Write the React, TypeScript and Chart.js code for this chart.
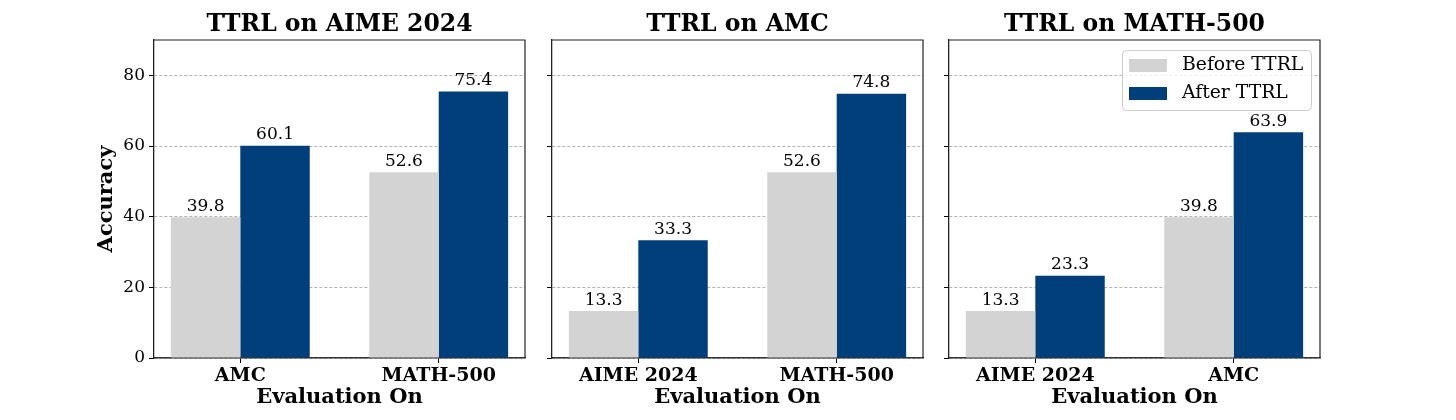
import React, { useEffect, useRef } from "react";
import { Chart, registerables } from "chart.js";

Chart.register(...registerables);

// ---- data ----
const panelTitles = ["TTRL on AIME 2024", "TTRL on AMC", "TTRL on MATH-500"];
const categoriesAIME = ["AMC", "MATH-500"];
const categoriesAMC = ["AIME 2024", "MATH-500"];
const categoriesMATH = ["AIME 2024", "AMC"];
const beforeAIME = [39.8, 52.6];
const afterAIME = [60.1, 75.4];
const beforeAMC = [13.3, 52.6];
const afterAMC = [33.3, 74.8];
const beforeMATH = [13.3, 39.8];
const afterMATH = [23.3, 63.9];
const seriesLabels = ["Before TTRL", "After TTRL"];
const yTicks = [0, 20, 40, 60, 80];
const xAxisTitle = "Evaluation On";
const yAxisTitle = "Accuracy";

const FONT = "'DejaVu Serif', serif";
const GRAY = "#d3d3d3";
const BLUE = "#003f7a";

type PanelSpec = {
  title: string;
  cats: string[];
  before: number[];
  after: number[];
  left: number;
  width: number;
  yAxisWidth: number;
  padRight: number;
  first: boolean;
  legend: boolean;
};

const panels: PanelSpec[] = [
  { title: panelTitles[0], cats: categoriesAIME, before: beforeAIME, after: afterAIME, left: 0, width: 540, yAxisWidth: 154, padRight: 15, first: true, legend: false },
  { title: panelTitles[1], cats: categoriesAMC, before: beforeAMC, after: afterAMC, left: 540, width: 397, yAxisWidth: 12, padRight: 14, first: false, legend: false },
  { title: panelTitles[2], cats: categoriesMATH, before: beforeMATH, after: afterMATH, left: 937, width: 519, yAxisWidth: 12, padRight: 136, first: false, legend: true },
];

const framePlugin = {
  id: "frame",
  afterDraw(chart: any) {
    const { ctx, chartArea } = chart;
    ctx.save();
    ctx.strokeStyle = "#222";
    ctx.lineWidth = 1.2;
    ctx.beginPath();
    ctx.moveTo(chartArea.left, chartArea.top);
    ctx.lineTo(chartArea.right, chartArea.top);
    ctx.lineTo(chartArea.right, chartArea.bottom);
    ctx.stroke();
    ctx.restore();
  },
};

const valueLabelPlugin = {
  id: "valueLabels",
  afterDatasetsDraw(chart: any) {
    const { ctx } = chart;
    ctx.save();
    ctx.font = `17px ${FONT}`;
    ctx.fillStyle = "#000";
    ctx.textAlign = "center";
    ctx.textBaseline = "alphabetic";
    chart.data.datasets.forEach((ds: any, di: number) => {
      const meta = chart.getDatasetMeta(di);
      meta.data.forEach((el: any, i: number) => {
        const v = ds.data[i].y;
        ctx.fillText(v.toFixed(1), el.x, el.y - 6.5);
      });
    });
    ctx.restore();
  },
};

const legendPlugin = {
  id: "insideLegend",
  afterDraw(chart: any, _args: any, opts: any) {
    if (!opts || !opts.show) return;
    const { ctx, chartArea } = chart;
    const right = chartArea.right - 9;
    const top = chartArea.top + 10;
    const w = 189;
    const h = 60;
    const x = right - w;
    ctx.save();
    ctx.beginPath();
    ctx.roundRect(x + 0.5, top + 0.5, w, h, 4);
    ctx.fillStyle = "rgba(255,255,255,0.8)";
    ctx.fill();
    ctx.strokeStyle = "#cccccc";
    ctx.lineWidth = 1;
    ctx.stroke();
    ctx.font = `18.8px ${FONT}`;
    ctx.textBaseline = "middle";
    ctx.textAlign = "left";
    chart.data.datasets.forEach((ds: any, i: number) => {
      const cy = top + 15.5 + i * 28;
      ctx.fillStyle = ds.backgroundColor;
      ctx.fillRect(x + 7, cy - 6.5, 38, 13);
      ctx.fillStyle = "#000";
      ctx.fillText(ds.label, x + 60, cy);
    });
    ctx.restore();
  },
};

function Panel({ spec }: { spec: PanelSpec }) {
  const ref = useRef<HTMLCanvasElement | null>(null);
  useEffect(() => {
    if (!ref.current) return;
    const cats = spec.cats;
    const chart = new Chart(ref.current, {
      type: "bar",
      data: {
        datasets: [
          {
            label: seriesLabels[0],
            data: spec.before.map((y, i) => ({ x: i, y })),
            backgroundColor: GRAY,
            borderWidth: 0,
          },
          {
            label: seriesLabels[1],
            data: spec.after.map((y, i) => ({ x: i, y })),
            backgroundColor: BLUE,
            borderWidth: 0,
          },
        ],
      },
      options: {
        animation: false,
        responsive: false,
        events: [],
        layout: { padding: { left: 0, right: spec.padRight, top: 0, bottom: 0 } },
        datasets: { bar: { categoryPercentage: 0.7, barPercentage: 1.0, grouped: true } },
        plugins: {
          legend: { display: false },
          tooltip: { enabled: false },
          title: {
            display: true,
            text: spec.title,
            fullSize: false,
            color: "#000",
            font: { family: FONT, size: 23.5, weight: "bold" },
            padding: { top: 11.1, bottom: 0.7 },
          },
          insideLegend: { show: spec.legend },
        } as any,
        scales: {
          x: {
            type: "linear",
            min: -0.435,
            max: 1.435,
            offset: false,
            afterBuildTicks: (scale: any) => {
              scale.ticks = cats.map((_, i) => ({ value: i }));
            },
            afterFit: (scale: any) => {
              scale.height = 62;
            },
            ticks: {
              autoSkip: false,
              maxRotation: 0,
              padding: 2,
              color: "#000",
              font: { family: FONT, size: 19, weight: "bold" },
              callback: (v: any) => cats[v] ?? "",
            },
            grid: { offset: false, drawOnChartArea: false, drawTicks: true, tickLength: 5, tickColor: "#000", tickWidth: 1 },
            border: { display: true, color: "#333", width: 1.6 },
            title: {
              display: true,
              text: xAxisTitle,
              color: "#000",
              font: { family: FONT, size: 21, weight: "bold" },
              padding: { top: 0, bottom: 9.7 },
            },
          },
          y: {
            type: "linear",
            min: 0,
            max: 90,
            afterBuildTicks: (scale: any) => {
              scale.ticks = yTicks.map((v) => ({ value: v }));
            },
            afterFit: (scale: any) => {
              scale.width = spec.yAxisWidth;
            },
            ticks: {
              padding: 4,
              color: "#000",
              font: { family: FONT, size: 17 },
              callback: (v: any) => (spec.first ? String(v) : ""),
            },
            grid: {
              color: "#a0a0a0",
              lineWidth: 0.8,
              drawTicks: true,
              tickLength: 5,
              tickColor: "#000",
              tickWidth: 1,
              tickBorderDash: [],
            },
            border: { display: true, color: "#222", width: 1.3, dash: [3, 2] },
            title: {
              display: spec.first,
              text: yAxisTitle,
              color: "#000",
              font: { family: FONT, size: 21, weight: "bold" },
              padding: { top: 94, bottom: 0 },
            },
          },
        },
      } as any,
      plugins: [framePlugin, valueLabelPlugin, legendPlugin],
    });
    return () => chart.destroy();
  }, [spec]);
  return (
    <canvas
      ref={ref}
      width={spec.width}
      height={420}
      style={{ position: "absolute", left: spec.left, top: 0, width: spec.width, height: 420 }}
    />
  );
}

export default function App() {
  return (
    <div style={{ position: "absolute", left: 0, top: 0, width: 1456, height: 420, background: "#fff" }}>
      {panels.map((p) => (
        <Panel key={p.title} spec={p} />
      ))}
    </div>
  );
}
